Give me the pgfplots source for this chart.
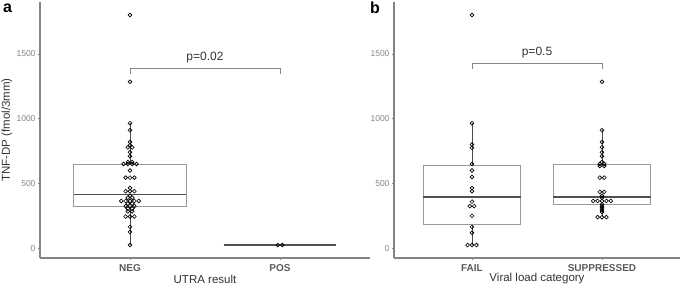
\documentclass[border=0pt]{standalone}
\usepackage{pgfplots}
\pgfplotsset{compat=1.18}
\usepackage{fontspec}
\setmainfont{Liberation Sans}
\definecolor{axgray}{HTML}{858585}
\definecolor{boxgray}{HTML}{9A9A9A}
\definecolor{medgray}{HTML}{505050}
\definecolor{labgray}{HTML}{5A5A5A}
\definecolor{txtdark}{HTML}{333333}
\pgfplotsset{
  panel/.style={
    scale only axis, height=256pt,
    ymin=-75, ymax=1900, xmin=0.4, xmax=2.6,
    axis lines=left, axis line style={-, axgray, line width=1.1pt},
    ytick={0,500,1000,1500}, xtick={1,2},
    tick style={axgray, line width=0.6pt}, tick align=outside, major tick length=2pt,
    /pgf/number format/1000 sep={}, scaled ticks=false,
    /pgf/number format/assume math mode=true,
    yticklabel style={font=\fontsize{8.5}{8.5}\selectfont, text=axgray, xshift=1pt},
    xticklabel style={font=\bfseries\fontsize{10}{10}\selectfont, text=labgray, yshift=-1pt},
    xlabel style={at={(axis description cs:0.5,0)}, anchor=center, yshift=-21pt, font=\fontsize{11.5}{11.5}\selectfont, text=txtdark},
    clip=false,
  },
  boxst/.style={boxgray, line width=0.9pt, fill=white},
  medst/.style={medgray, line width=1.8pt},
  whisk/.style={black!70, line width=0.9pt},
  dots/.style={only marks, mark=o, mark size=1.9pt, mark options={draw=black, fill=white, line width=0.65pt}},
  brack/.style={axgray, line width=0.9pt},
}
\begin{document}
\begin{tikzpicture}
\path[use as bounding box] (0,0) rectangle (680pt,288pt);
% ---------------- panel a ----------------
\begin{axis}[panel, at={(40pt,30pt)}, anchor=south west, width=330pt,
  xticklabels={NEG,POS}, xlabel={UTRA result},
  ylabel={TNF-DP (fmol/3mm)},
  ylabel style={at={(axis description cs:-0.1,0.5)}, anchor=center, font=\fontsize{11.5}{11.5}\selectfont, text=txtdark}]
\addplot[whisk] coordinates {(1,649) (1,965)};
\addplot[whisk] coordinates {(1,25) (1,319)};
\addplot[boxst] coordinates {(0.625,319) (1.375,319) (1.375,649) (0.625,649) (0.625,319)};
\addplot[medst] coordinates {(0.625,415) (1.375,415)};
\addplot[medst] coordinates {(1.625,25) (2.375,25)};
\addplot[dots] table {
x y
1 1800
1 1285
1 965
1 910
1 820
1 795
0.9855 778
1.0145 778
1 740
1 710
0.9855 665
1.0145 665
0.9565 650
0.9855 650
1.0145 650
1.0435 650
1 600
0.971 545
1 545
1.029 545
1 465
0.971 440
1 440
1.029 440
1 405
0.9855 390
1.0145 390
0.942 365
0.971 365
1 365
1.029 365
1.058 365
0.9855 345
1.0145 345
0.971 325
1 325
1.029 325
0.9855 305
1.0145 305
0.9855 285
1.0145 285
0.971 245
1 245
1.029 245
1 165
1 125
1 25
};
\addplot[dots] table {
x y
1.9855 25
2.0145 25
};
\addplot[brack] coordinates {(1,1344) (1,1390) (2,1390) (2,1344)};
\node[font=\fontsize{12}{12}\selectfont, text=txtdark] at (axis cs:1.5,1475) {p=0.02};
\end{axis}
\node[anchor=north west, inner sep=0pt, font=\bfseries\fontsize{16}{16}\selectfont] at (3pt,284pt) {a};
% ---------------- panel b ----------------
\begin{axis}[panel, at={(394pt,30pt)}, anchor=south west, width=286pt,
  xticklabels={FAIL,SUPPRESSED}, xlabel={Viral load category}]
\addplot[whisk] coordinates {(1,638) (1,965)};
\addplot[whisk] coordinates {(1,25) (1,185)};
\addplot[whisk] coordinates {(2,644) (2,910)};
\addplot[whisk] coordinates {(2,240) (2,336)};
\addplot[boxst] coordinates {(0.625,185) (1.375,185) (1.375,638) (0.625,638) (0.625,185)};
\addplot[medst] coordinates {(0.625,395) (1.375,395)};
\addplot[boxst] coordinates {(1.625,336) (2.375,336) (2.375,644) (1.625,644) (1.625,336)};
\addplot[medst] coordinates {(1.625,395) (2.375,395)};
\addplot[dots] table {
x y
1 1800
1 965
1 800
1 775
1 650
1 600
1 550
1 465
1 440
1 360
0.983 325
1.017 325
1 250
1 165
1 120
0.966 25
1 25
1.034 25
};
\addplot[dots] table {
x y
2 1285
2 910
2 820
2 780
2 740
2 710
2 665
1.983 650
2.017 650
1.983 635
2.017 635
1.983 545
2.017 545
1.983 435
2.017 435
2 405
2 390
1.932 365
1.966 365
2 365
2.034 365
2.068 365
2 340
2 325
2 310
2 295
2 280
1.966 240
2 240
2.034 240
};
\addplot[brack] coordinates {(1,1382) (1,1428) (2,1428) (2,1382)};
\node[font=\fontsize{12}{12}\selectfont, text=txtdark] at (axis cs:1.5,1508) {p=0.5};
\end{axis}
\node[anchor=north west, inner sep=0pt, font=\bfseries\fontsize{16}{16}\selectfont] at (370pt,286pt) {b};
\end{tikzpicture}
\end{document}
